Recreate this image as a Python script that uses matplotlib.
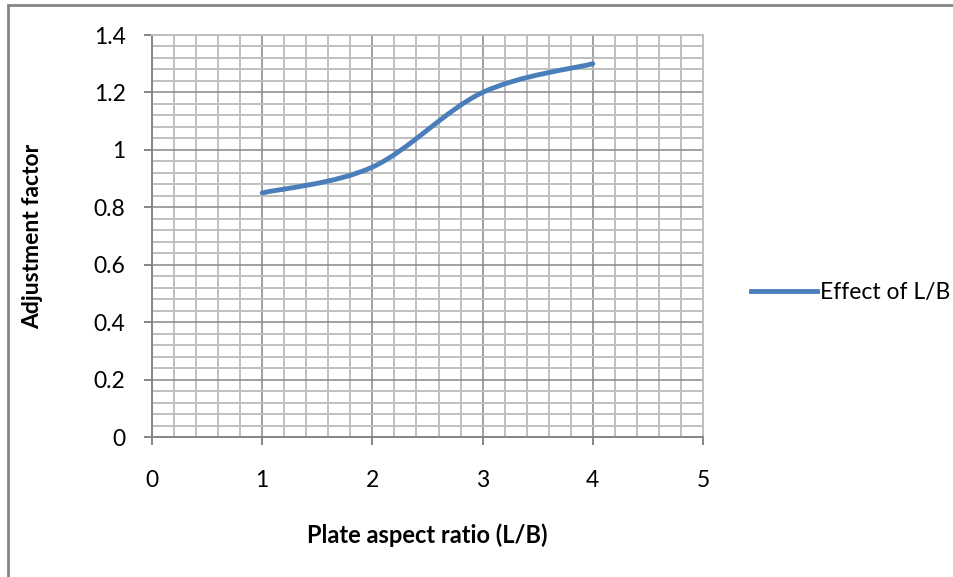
import matplotlib
matplotlib.use("Agg")
import matplotlib.pyplot as plt
from matplotlib.lines import Line2D
from matplotlib.patches import PathPatch, Rectangle
from matplotlib.path import Path
from matplotlib.ticker import MultipleLocator

# data
aspect_ratio = [1, 2, 3, 4]
adjustment = [0.85, 0.94, 1.2, 1.3]
series_name = "Effect of L/B"

x_ticks = [0, 1, 2, 3, 4, 5]
y_ticks = [0, 0.2, 0.4, 0.6, 0.8, 1.0, 1.2, 1.4]
y_tick_labels = ["0", "0.2", "0.4", "0.6", "0.8", "1", "1.2", "1.4"]

plt.rcParams["font.family"] = ["Lato", "DejaVu Sans"]

blue = "#4a7ebb"
major_grey = "#868686"
minor_grey = "#bfbfbf"


def smooth_path(xs, ys, tension=1 / 6):
    """Excel-like smoothed line as cubic Bezier segments through the points."""
    pts = list(zip(xs, ys))
    verts = [pts[0]]
    codes = [Path.MOVETO]
    for i in range(len(pts) - 1):
        p0 = pts[i - 1] if i > 0 else pts[i]
        p1 = pts[i]
        p2 = pts[i + 1]
        p3 = pts[i + 2] if i + 2 < len(pts) else pts[i + 1]
        c1 = (p1[0] + (p2[0] - p0[0]) * tension, p1[1] + (p2[1] - p0[1]) * tension)
        c2 = (p2[0] - (p3[0] - p1[0]) * tension, p2[1] - (p3[1] - p1[1]) * tension)
        verts += [c1, c2, p2]
        codes += [Path.CURVE4] * 3
    return Path(verts, codes)


fig = plt.figure(figsize=(9.54, 5.77), dpi=100)
ax = fig.add_axes([152 / 954, 1 - 437 / 577, 551 / 954, 402 / 577])

ax.set_xlim(0, 5)
ax.set_ylim(0, 1.4)
ax.set_xticks(x_ticks)
ax.set_xticklabels([str(t) for t in x_ticks])
ax.set_yticks(y_ticks)
ax.set_yticklabels(y_tick_labels)
ax.xaxis.set_minor_locator(MultipleLocator(0.2))
ax.yaxis.set_minor_locator(MultipleLocator(0.04))

ax.grid(which="minor", color=minor_grey, linewidth=1.4)
ax.grid(which="major", color=major_grey, linewidth=1.1)
ax.set_axisbelow(True)

for side in ["top", "right"]:
    ax.spines[side].set_color(minor_grey)
    ax.spines[side].set_linewidth(1.4)
for side in ["left", "bottom"]:
    ax.spines[side].set_color(major_grey)
    ax.spines[side].set_linewidth(1.4)

ax.tick_params(which="major", direction="out", length=6, width=1.4,
               color=major_grey, labelsize=16.5)
ax.tick_params(axis="x", which="major", pad=18)
ax.tick_params(axis="y", which="major", pad=13)
ax.tick_params(which="minor", length=0)

patch = PathPatch(smooth_path(aspect_ratio, adjustment), facecolor="none",
                  edgecolor=blue, linewidth=3.5, capstyle="round", zorder=3)
ax.add_patch(patch)

ax.set_xlabel("Plate aspect ratio (L/B)", fontsize=17, fontweight="bold")
ax.set_ylabel("Adjustment factor", fontsize=16.5, fontweight="bold")
ax.xaxis.set_label_coords(0.5, (437 - 535) / 402)
ax.xaxis.label.set_va("center")
ax.yaxis.set_label_coords((33 - 152) / 551, 0.5)
ax.yaxis.label.set_va("center")

handle = Line2D([], [], color=blue, linewidth=3.5)
ax.legend([handle], [series_name], loc="center left",
          bbox_to_anchor=(1.087, (437 - 293) / 402),
          frameon=False, fontsize=16.5, handlelength=2.9, handletextpad=0.1,
          borderaxespad=0, borderpad=0)

# outer chart border
fig.add_artist(Rectangle((8 / 954, -0.05), 1.2, 1 - 5 / 577 + 0.05,
                         transform=fig.transFigure, fill=False,
                         edgecolor=major_grey, linewidth=2))

fig.savefig("out.png", dpi=100)
